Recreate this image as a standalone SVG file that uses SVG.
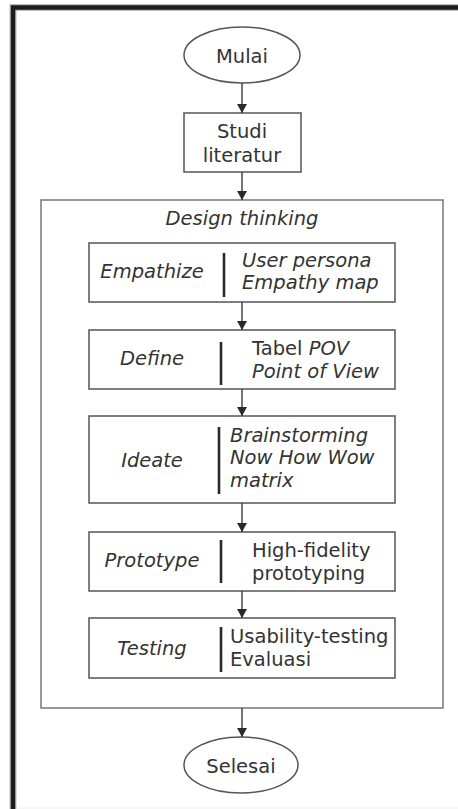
<svg xmlns="http://www.w3.org/2000/svg" width="458" height="809" viewBox="0 0 458 809">
<style>
text{font-family:"DejaVu Sans","Liberation Sans",sans-serif;font-size:19.5px;fill:#333}
.i{font-style:italic}
.c{text-anchor:middle}
.box{fill:#fff;stroke:#555;stroke-width:1.5}
.outer{fill:none;stroke:#777;stroke-width:1.5}
.div{stroke:#2a2a2a;stroke-width:2.6}
.con{stroke:#444;stroke-width:1.5;fill:none;marker-end:url(#ah)}
</style>
<defs>
<marker id="ah" viewBox="0 0 10 10" refX="10" refY="5" markerUnits="userSpaceOnUse" markerWidth="9" markerHeight="10" orient="auto" preserveAspectRatio="none">
<path d="M0,0 L10,5 L0,10 z" fill="#2a2a2a"/>
</marker>
</defs>
<rect x="0" y="0" width="458" height="809" fill="#fff"/>
<path d="M13,809 V7.5 H458" fill="none" stroke="#bbb" stroke-width="7"/>
<path d="M13,809 V7.5 H458" fill="none" stroke="#1c1c1c" stroke-width="4.5"/>
<line x1="16" y1="808" x2="458" y2="808" stroke="#eee" stroke-width="1"/>

<g id="design-thinking">
<rect class="outer" x="41" y="200" width="402" height="508"/>
<text class="i c" x="242" y="225">Design thinking</text>
</g>

<g id="mulai">
<ellipse class="box" cx="242" cy="55" rx="58" ry="28"/>
<text class="c" x="242" y="63">Mulai</text>
</g>

<g id="studi">
<rect class="box" x="184" y="113" width="117" height="59"/>
<text class="c" x="242" y="138">Studi</text>
<text class="c" x="242" y="162">literatur</text>
</g>

<g id="empathize">
<rect class="box" x="89" y="243" width="306" height="59"/>
<line class="div" x1="224" y1="253" x2="224" y2="297"/>
<text class="i c" x="152" y="278">Empathize</text>
<text class="i" x="242" y="267">User persona</text>
<text class="i" x="242" y="289">Empathy map</text>
</g>

<g id="define">
<rect class="box" x="89" y="330" width="306" height="59"/>
<line class="div" x1="221" y1="342" x2="221" y2="385"/>
<text class="i c" x="152" y="365">Define</text>
<text x="252" y="355">Tabel <tspan class="i">POV</tspan></text>
<text class="i" x="252" y="378">Point of View</text>
</g>

<g id="ideate">
<rect class="box" x="89" y="416" width="306" height="87"/>
<line class="div" x1="219" y1="427" x2="219" y2="494"/>
<text class="i c" x="152" y="467">Ideate</text>
<text class="i" x="230" y="442">Brainstorming</text>
<text class="i" x="230" y="464">Now How Wow</text>
<text class="i" x="230" y="487">matrix</text>
</g>

<g id="prototype">
<rect class="box" x="89" y="532" width="306" height="59"/>
<line class="div" x1="221" y1="540" x2="221" y2="583"/>
<text class="i c" x="152" y="567">Prototype</text>
<text x="252" y="557">High-fidelity</text>
<text x="252" y="580">prototyping</text>
</g>

<g id="testing">
<rect class="box" x="89" y="618" width="306" height="60"/>
<line class="div" x1="221" y1="627" x2="221" y2="672"/>
<text class="i c" x="152" y="655">Testing</text>
<text x="230" y="643">Usability-testing</text>
<text x="230" y="666">Evaluasi</text>
</g>

<g id="selesai">
<ellipse class="box" cx="241" cy="765" rx="57" ry="28"/>
<text class="c" x="241" y="773">Selesai</text>
</g>

<g id="connectors">
<line class="con" x1="242" y1="83" x2="242" y2="113"/>
<line class="con" x1="242" y1="172" x2="242" y2="200"/>
<line class="con" x1="242" y1="302" x2="242" y2="330"/>
<line class="con" x1="242" y1="389" x2="242" y2="416"/>
<line class="con" x1="242" y1="503" x2="242" y2="532"/>
<line class="con" x1="242" y1="591" x2="242" y2="618"/>
<line class="con" x1="242" y1="708" x2="242" y2="737"/>
</g>
</svg>
